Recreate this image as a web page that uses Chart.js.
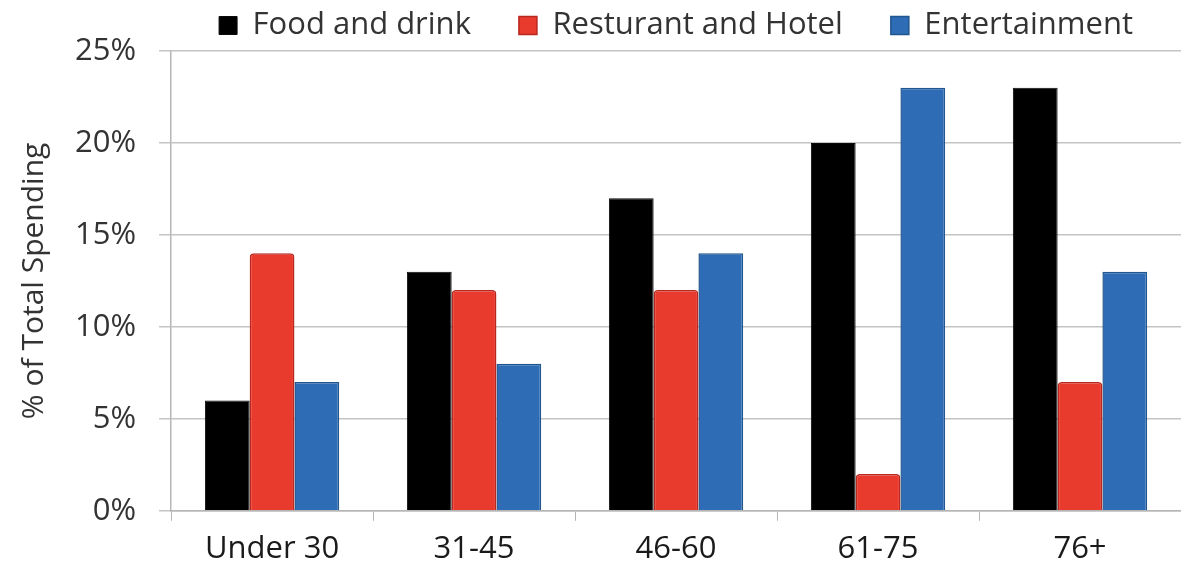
<!DOCTYPE html>
<html>
<head>
<meta charset="utf-8">
<script src="https://cdn.jsdelivr.net/npm/chart.js@4"></script>
<style>
  html, body { margin: 0; padding: 0; background: #fff; }
  #wrap { width: 1181px; height: 573px; }
</style>
</head>
<body>
<div id="wrap"><canvas id="spendChart" width="1181" height="573"></canvas></div>
<script>
// data
var ageGroups = ['Under 30', '31-45', '46-60', '61-75', '76+'];
var foodDrink = [6, 13, 17, 20, 23];
var restHotel = [14, 12, 12, 2, 7];
var entertainment = [7, 8, 14, 23, 13];
var yTicks = [0, 5, 10, 15, 20, 25];

var fontName = "'Open Sans', 'Noto Sans', sans-serif";
var textColor = '#333333';
var legendGap = 48;

window.onload = function() {
  var ctx = document.getElementById('spendChart').getContext('2d');
  var chart = new Chart(ctx, {
    type: 'bar',
    data: {
      labels: ageGroups,
      datasets: [{
        label: 'Food and drink',
        data: foodDrink,
        backgroundColor: '#000000',
        borderColor: '#0a0a0a',
        borderWidth: 1
      },
      {
        label: 'Resturant and Hotel',
        data: restHotel,
        backgroundColor: '#e93b2d',
        borderColor: '#b8281e',
        borderWidth: 1.5,
        borderRadius: 4,
        borderSkipped: 'bottom'
      },
      {
        label: 'Entertainment',
        data: entertainment,
        backgroundColor: '#2e6db5',
        borderColor: '#22568f',
        borderWidth: 1.5
      }]
    },
    options: {
      responsive: false,
      animation: false,
      // top pad is negative because the legend padding also spaces the items apart
      layout: { padding: { left: 12, right: -8, top: 10 - legendGap, bottom: -5 } },
      datasets: {
        bar: { categoryPercentage: 0.665, barPercentage: 1.0 }
      },
      plugins: {
        tooltip: { enabled: false },
        legend: {
          position: 'top',
          align: 'center',
          fullSize: false,
          labels: {
            color: textColor,
            font: { family: fontName, size: 31 },
            boxWidth: 18,
            boxHeight: 18,
            padding: legendGap
          }
        }
      },
      scales: {
        x: {
          offset: true,
          grid: {
            offset: true,
            drawOnChartArea: false,
            drawTicks: true,
            tickLength: 10,
            color: '#b5b5b5'
          },
          border: { color: '#b5b5b5', width: 1.5 },
          ticks: {
            color: '#1a1a1a',
            font: { family: fontName, size: 31 },
            padding: 10
          }
        },
        y: {
          min: 0,
          max: 25,
          afterBuildTicks: function(axis) {
            axis.ticks = yTicks.map(function(v) { return { value: v }; });
          },
          grid: {
            color: '#c4c4c4',
            tickLength: 12,
            lineWidth: 1.5
          },
          border: { color: '#b5b5b5', width: 1.5 },
          ticks: {
            color: textColor,
            font: { family: fontName, size: 31 },
            padding: 23,
            callback: function(v) { return v + '%'; }
          },
          title: {
            display: true,
            text: '% of Total Spending',
            color: textColor,
            font: { family: fontName, size: 30 },
            padding: { top: 4, bottom: 0 }
          }
        }
      }
    }
  });
};
</script>
</body>
</html>
